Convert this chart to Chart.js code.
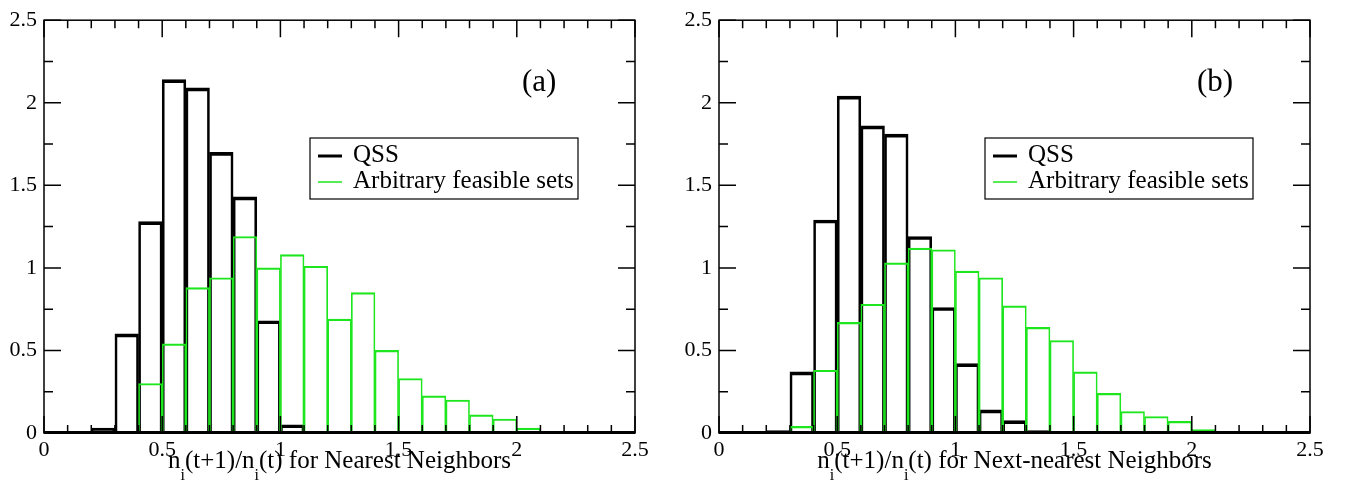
<!DOCTYPE html>
<html>
<head>
<meta charset="utf-8">
<script src="https://cdn.jsdelivr.net/npm/chart.js@4.4.1/dist/chart.umd.min.js"></script>
<style>
  html, body { margin: 0; padding: 0; background: #fff; overflow: hidden; }
  .panel { position: absolute; top: 0; height: 490px; }
  #panelA { left: 0; width: 672px; }
  #panelB { left: 675px; width: 670px; }
</style>
</head>
<body>
<div class="panel" id="panelA"><canvas id="chartA"></canvas></div>
<div class="panel" id="panelB"><canvas id="chartB"></canvas></div>
<script>
// histogram bins of width 0.1, values at bin centres
const binCenters = [0.05, 0.15, 0.25, 0.35, 0.45, 0.55, 0.65, 0.75, 0.85, 0.95,
                    1.05, 1.15, 1.25, 1.35, 1.45, 1.55, 1.65, 1.75, 1.85, 1.95,
                    2.05, 2.15, 2.25, 2.35, 2.45];

const qssNearest = [0, 0, 0.03, 0.60, 1.28, 2.14, 2.09, 1.70, 1.43, 0.68,
                    0.05, 0, 0, 0, 0, 0, 0, 0, 0, 0,
                    0, 0, 0, 0, 0];
const arbNearest = [0, 0, 0, 0.01, 0.30, 0.54, 0.88, 0.94, 1.19, 1.00,
                    1.08, 1.01, 0.69, 0.85, 0.50, 0.33, 0.225, 0.20, 0.11, 0.085,
                    0.03, 0, 0, 0, 0];

const qssNext = [0, 0, 0.015, 0.37, 1.29, 2.04, 1.86, 1.81, 1.19, 0.76,
                 0.42, 0.14, 0.075, 0.015, 0, 0, 0, 0, 0, 0,
                 0, 0, 0, 0, 0];
const arbNext = [0, 0, 0, 0.04, 0.38, 0.67, 0.78, 1.03, 1.12, 1.11,
                 0.98, 0.94, 0.77, 0.64, 0.56, 0.37, 0.24, 0.13, 0.10, 0.07,
                 0.02, 0.01, 0.005, 0, 0];

const axisTicks = [0, 0.5, 1, 1.5, 2, 2.5];
const seriesNames = ['QSS', 'Arbitrary feasible sets'];

const SERIF = "'Liberation Serif', 'Times New Roman', serif";
const GREEN = 'rgb(30,230,30)';

function toPoints(vals) {
    return binCenters.map((x, i) => ({x: x, y: vals[i]}));
}

// frame, inward ticks, legend box, panel tag and the axis title with subscripts
function decorPlugin(tag, titleTail) {
    return {
        id: 'decor',
        afterDraw(chart) {
            const ctx = chart.ctx;
            const a = chart.chartArea;
            const xs = chart.scales.x, ys = chart.scales.y;
            ctx.save();
            ctx.strokeStyle = '#000';
            ctx.lineWidth = 1.5;

            // minor ticks every 0.1 on x, 0.25 on y
            ctx.beginPath();
            for (let i = 0; i <= 25; i++) {
                const px = xs.getPixelForValue(i / 10);
                const len = i % 5 === 0 ? 17 : 8;
                ctx.moveTo(px, a.bottom); ctx.lineTo(px, a.bottom - len);
                ctx.moveTo(px, a.top); ctx.lineTo(px, a.top + len);
            }
            for (let i = 0; i <= 10; i++) {
                const py = ys.getPixelForValue(i * 0.25);
                const len = i % 2 === 0 ? 17 : 9;
                ctx.moveTo(a.left, py); ctx.lineTo(a.left + len, py);
                ctx.moveTo(a.right, py); ctx.lineTo(a.right - len, py);
            }
            ctx.stroke();
            ctx.strokeRect(a.left, a.top, a.right - a.left, a.bottom - a.top);

            // zero line of the QSS step curve
            ctx.lineWidth = 3;
            ctx.beginPath();
            ctx.moveTo(a.left, a.bottom - 0.5);
            ctx.lineTo(a.right, a.bottom - 0.5);
            ctx.stroke();

            // legend
            const bx = a.left + 266, by = 138, bw = 268, bh = 61;
            ctx.fillStyle = '#fff';
            ctx.fillRect(bx, by, bw, bh);
            ctx.lineWidth = 1.2;
            ctx.strokeRect(bx, by, bw, bh);
            ctx.font = '25px ' + SERIF;
            ctx.textBaseline = 'alphabetic';
            ctx.textAlign = 'left';
            chart.data.datasets.forEach((ds, i) => {
                const ly = by + 18 + i * 26;
                ctx.strokeStyle = ds.borderColor;
                ctx.lineWidth = i === 0 ? 3 : 1.5;
                ctx.beginPath();
                ctx.moveTo(bx + 8, ly);
                ctx.lineTo(bx + 32, ly);
                ctx.stroke();
                ctx.fillStyle = '#000';
                ctx.fillText(ds.label, bx + 43, ly + 6);
            });

            // panel tag
            ctx.font = '31px ' + SERIF;
            ctx.textBaseline = 'middle';
            ctx.fillText(tag, a.left + 478, 83);

            // x axis title: n_i(t+1)/n_i(t) for ...
            const parts = [
                ['n', false], ['i', true], ['(t+1)/n', false], ['i', true], ['(t) ' + titleTail, false]
            ];
            const big = '25px ' + SERIF, small = '16px ' + SERIF;
            let total = 0;
            parts.forEach(p => { ctx.font = p[1] ? small : big; total += ctx.measureText(p[0]).width; });
            let cx = (a.left + a.right) / 2 - total / 2;
            ctx.textBaseline = 'alphabetic';
            parts.forEach(p => {
                ctx.font = p[1] ? small : big;
                ctx.fillText(p[0], cx, p[1] ? 480 : 468);
                cx += ctx.measureText(p[0]).width;
            });
            ctx.restore();
        }
    };
}

function makePanel(canvasId, qss, arb, tag, titleTail, padRight) {
    const tickFont = {family: SERIF, size: 22};
    const tickLabel = v => String(v);
    return new Chart(document.getElementById(canvasId).getContext('2d'), {
        type: 'bar',
        data: {
            datasets: [{
                label: seriesNames[0],
                data: toPoints(qss),
                backgroundColor: 'rgba(0,0,0,0)',
                borderColor: '#000',
                borderWidth: {top: 3, left: 2, right: 2, bottom: 0},
                barPercentage: 1,
                categoryPercentage: 1,
                grouped: false,
                order: 1
            }, {
                label: seriesNames[1],
                data: toPoints(arb),
                backgroundColor: 'rgba(0,0,0,0)',
                borderColor: GREEN,
                borderWidth: {top: 1.5, left: 1, right: 1, bottom: 0},
                barPercentage: 1,
                categoryPercentage: 1,
                grouped: false,
                order: 0
            }]
        },
        options: {
            responsive: true,
            maintainAspectRatio: false,
            animation: false,
            layout: {padding: {top: 19, right: padRight, left: 0, bottom: 0}},
            plugins: {legend: {display: false}, tooltip: {enabled: false}},
            scales: {
                x: {
                    type: 'linear',
                    min: 0, max: 2.5,
                    offset: false,
                    grid: {display: false, drawTicks: false},
                    border: {display: false},
                    ticks: {font: tickFont, color: '#000', padding: 4, maxRotation: 0, autoSkip: false, callback: tickLabel},
                    afterBuildTicks: s => { s.ticks = axisTicks.map(v => ({value: v})); },
                    afterFit: s => { s.height = 57; }
                },
                y: {
                    min: 0, max: 2.5,
                    grid: {display: false, drawTicks: false},
                    border: {display: false},
                    ticks: {font: tickFont, color: '#000', padding: 7, callback: tickLabel},
                    afterBuildTicks: s => { s.ticks = axisTicks.map(v => ({value: v})); },
                    afterFit: s => { s.width = 44; }
                }
            }
        },
        plugins: [decorPlugin(tag, titleTail)]
    });
}

makePanel('chartA', qssNearest, arbNearest, '(a)', 'for Nearest Neighbors', 37);
makePanel('chartB', qssNext, arbNext, '(b)', 'for Next-nearest Neighbors', 35);
</script>
</body>
</html>
